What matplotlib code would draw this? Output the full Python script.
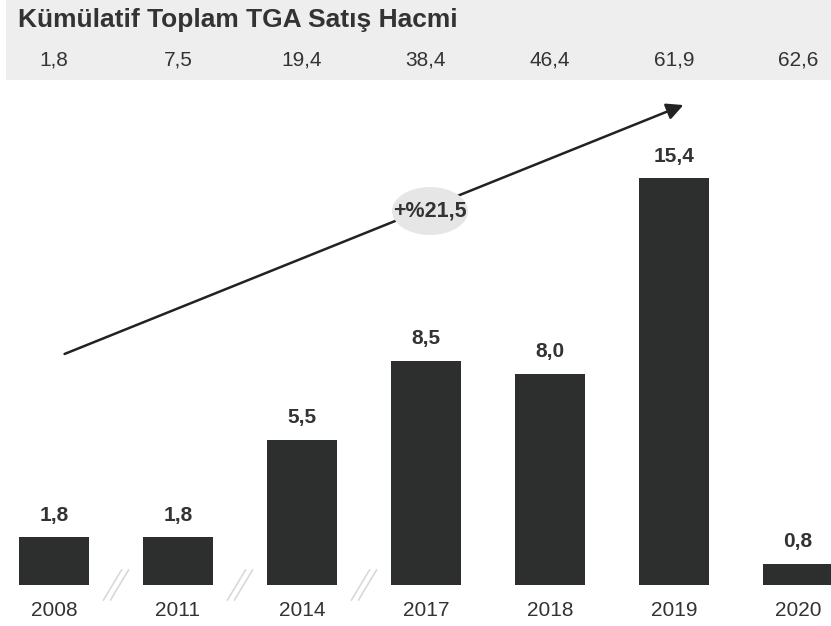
import matplotlib
matplotlib.use("Agg")
from matplotlib import pyplot as plt
from matplotlib.patches import Ellipse, Rectangle

years = ["2008", "2011", "2014", "2017", "2018", "2019", "2020"]
volumes = [1.8, 1.8, 5.5, 8.5, 8.0, 15.4, 0.8]
cumulative = ["1,8", "7,5", "19,4", "38,4", "46,4", "61,9", "62,6"]
bar_labels = ["1,8", "1,8", "5,5", "8,5", "8,0", "15,4", "0,8"]
growth_label = "+%21,5"
title = "Kümülatif Toplam TGA Satış Hacmi"

plt.rcParams["font.family"] = ["Liberation Sans", "DejaVu Sans"]
dark = "#2d2e2e"
text_c = "#333333"

W, H = 831, 626
fig = plt.figure(figsize=(W / 100, H / 100), dpi=100)
ax = fig.add_axes([0, 0, 1, 1])
ax.set_zorder(2)
x = list(range(len(years)))
step = 124.0
ppu = 26.4
base = H - 585
ax.set_xlim(-54 / step, (W - 54) / step)
ax.set_ylim(-base / ppu, (H - base) / ppu)
ax.axis("off")

# header band
fig.patches.append(Rectangle((6 / W, 1 - 80 / H), 1, 80 / H, transform=fig.transFigure,
                             facecolor="#eeeeee", edgecolor="none", zorder=0))
fig.text(18 / W, 1 - 20 / H, title, fontsize=19, fontweight="bold", color=text_c,
         va="center", ha="left", zorder=3)
for xi, c in zip(x, cumulative):
    ax.text(xi, (H - 60 - base) / ppu, c, fontsize=15, color=text_c, ha="center", va="center")

# bars
ax.bar(x, volumes, width=70 / step, color=dark, zorder=2)
for xi, v, lab in zip(x, volumes, bar_labels):
    ax.text(xi, v + 22 / ppu, lab, fontsize=15, fontweight="bold", color=text_c,
            ha="center", va="center")
    ax.text(xi, -25 / ppu, years[xi], fontsize=15, color=text_c, ha="center", va="center")

# axis break marks
for xb in [0.5, 1.5, 2.5]:
    for off in [-3.5, 3.5]:
        dx = off / step
        ax.plot([xb - 9 / step + dx, xb + 9 / step + dx], [-15 / ppu, 15 / ppu],
                color="#d9d9d9", lw=1.2, zorder=1)

# trend arrow
ax.annotate("", xy=((686 - 54) / step, (H - 104 - base) / ppu),
            xytext=((62 - 54) / step, (H - 355 - base) / ppu),
            arrowprops=dict(arrowstyle="-|>,head_length=1.0,head_width=0.5",
                            color="#222222", lw=1.8))
ex, ey = (430 - 54) / step, (H - 211 - base) / ppu
ax.add_patch(Ellipse((ex, ey), 76 / step, 48 / ppu, facecolor="#e6e6e6",
                     edgecolor="none", zorder=3))
ax.text(ex, ey, growth_label, fontsize=15.5, fontweight="bold", color=text_c,
        ha="center", va="center", zorder=4)

fig.savefig("out.png", dpi=100)
